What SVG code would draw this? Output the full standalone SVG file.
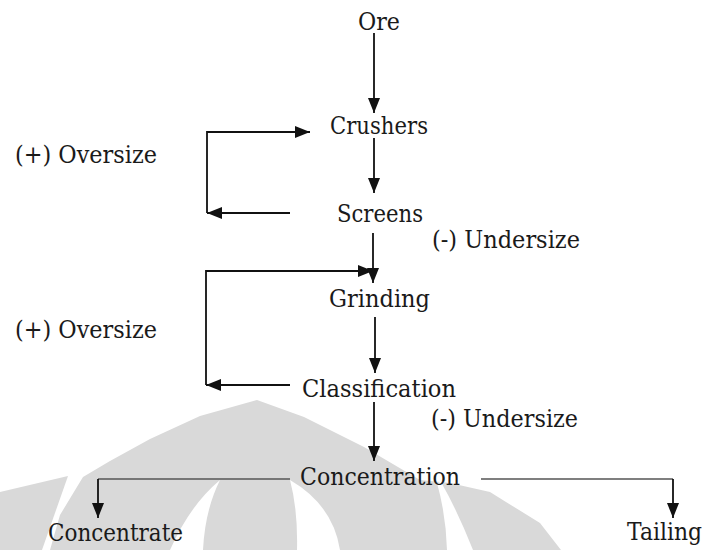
<svg xmlns="http://www.w3.org/2000/svg" width="714" height="550" viewBox="0 0 714 550">
<defs>
<style>
text{font-family:'DejaVu Serif','Liberation Serif',serif;font-size:25px;fill:#1a1a1a;}
.m{text-anchor:middle;}
.c{fill:none;stroke:#111;stroke-width:1.8;}
.thin{fill:none;stroke:#555;stroke-width:1.3;}
.wm{fill:#d9d9d9;stroke:none;}
.wh{fill:#fff;stroke:none;}
</style>
<marker id="ah" markerUnits="userSpaceOnUse" markerWidth="15" markerHeight="12" refX="15" refY="6" orient="auto">
<path d="M0,0 L15,6 L0,12 Z" fill="#111"/>
</marker>
</defs>
<rect width="714" height="550" fill="#fff"/>
<g id="watermark">
<path class="wm" d="M0,492 L68,476 L42,550 L0,550 Z"/>
<path class="wm" d="M50,550 L60,515 L83,477 L110,461 L150,439 L200,416 L257,400 L304,417 L364,447 L420,480 L450,483 L490,492 L540,523 L561,550 Z"/>
<path class="wh" d="M220,480 Q190,505 170,550 L203,550 Q205,510 220,480 Z"/>
<path class="wh" d="M290,480 Q333,505 340,550 L297,550 Q298,510 290,480 Z"/>
<path class="wh" d="M441,482 Q458,512 473,550 L447,550 Q446,515 437,483 Z"/>
</g>
<g id="connectors">
<line class="c" x1="374" y1="33" x2="374" y2="113" marker-end="url(#ah)"/>
<line class="c" x1="374" y1="138" x2="374" y2="193" marker-end="url(#ah)"/>
<polyline class="c" points="290,213 207,213" marker-end="url(#ah)"/>
<polyline class="c" points="207,213 207,132 310,132" marker-end="url(#ah)"/>
<line class="c" x1="373" y1="233" x2="373" y2="283" marker-end="url(#ah)"/>
<polyline class="c" points="206,385 206,271 373,271" marker-end="url(#ah)"/>
<polyline class="c" points="290,385 206,385" marker-end="url(#ah)"/>
<line class="c" x1="375" y1="317" x2="375" y2="373" marker-end="url(#ah)"/>
<line class="c" x1="374" y1="402" x2="374" y2="461" marker-end="url(#ah)"/>
<polyline class="thin" points="290,479 98,479"/>
<line class="c" x1="98" y1="479" x2="98" y2="518" marker-end="url(#ah)"/>
<polyline class="thin" points="481,479 673,479"/>
<line class="c" x1="673" y1="479" x2="673" y2="518" marker-end="url(#ah)"/>
</g>
<g id="ore"><text class="m" x="379" y="30" textLength="42" lengthAdjust="spacingAndGlyphs">Ore</text></g>
<g id="crushers"><text class="m" x="379" y="134" textLength="98" lengthAdjust="spacingAndGlyphs">Crushers</text></g>
<g id="screens"><text class="m" x="380" y="222" textLength="86" lengthAdjust="spacingAndGlyphs">Screens</text></g>
<g id="grinding"><text class="m" x="379.5" y="307" textLength="101" lengthAdjust="spacingAndGlyphs">Grinding</text></g>
<g id="classification"><text class="m" x="379" y="397" textLength="154" lengthAdjust="spacingAndGlyphs">Classification</text></g>
<g id="concentration"><text class="m" x="380" y="485" textLength="160" lengthAdjust="spacingAndGlyphs">Concentration</text></g>
<g id="concentrate"><text x="48" y="541" textLength="135" lengthAdjust="spacingAndGlyphs">Concentrate</text></g>
<g id="tailing"><text x="627" y="540" textLength="75" lengthAdjust="spacingAndGlyphs">Tailing</text></g>
<g id="oversize1"><text x="15" y="163" textLength="142" lengthAdjust="spacingAndGlyphs">(+) Oversize</text></g>
<g id="oversize2"><text x="15" y="338" textLength="142" lengthAdjust="spacingAndGlyphs">(+) Oversize</text></g>
<g id="undersize1"><text x="432" y="248" textLength="148" lengthAdjust="spacingAndGlyphs">(-) Undersize</text></g>
<g id="undersize2"><text x="431" y="427" textLength="147" lengthAdjust="spacingAndGlyphs">(-) Undersize</text></g>
</svg>
